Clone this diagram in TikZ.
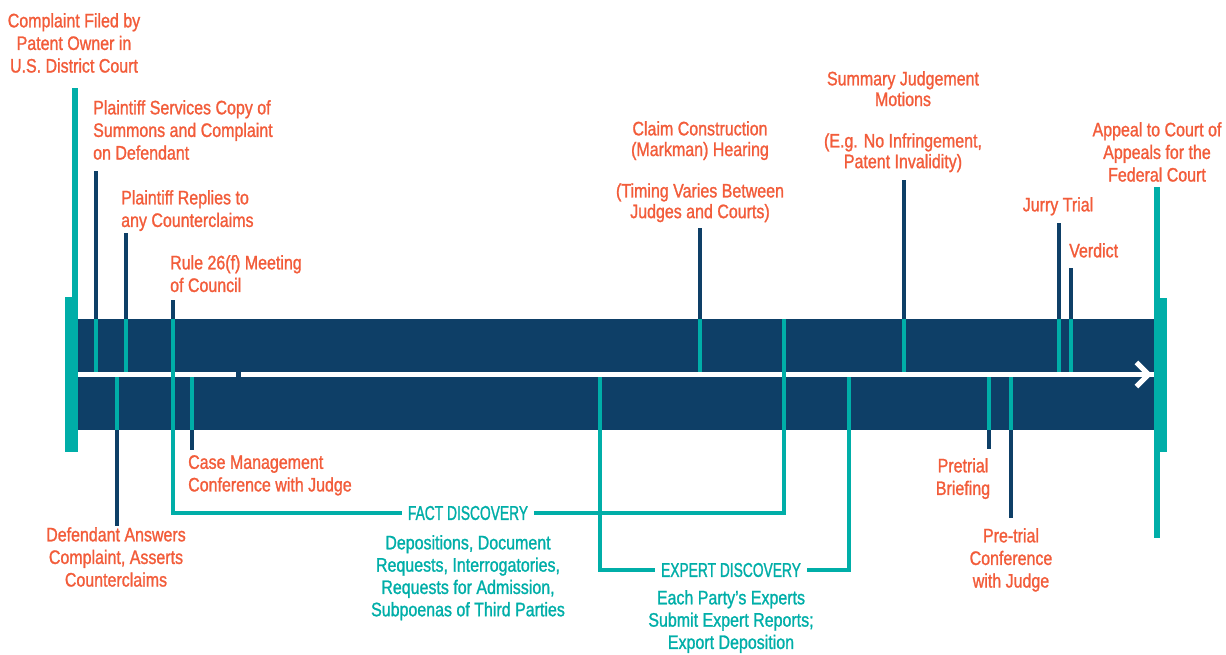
\documentclass[tikz,border=0pt]{standalone}
\usepackage{fontspec}
\setmainfont{Liberation Sans}[FakeStretch=0.82, FakeBold=1.2]
\newfontfamily\phasefont{Liberation Sans}[FakeStretch=0.69, FakeBold=1.2]
\usetikzlibrary{arrows.meta, positioning}
\definecolor{navycolor}{RGB}{14,63,103}
\definecolor{tealcolor}{RGB}{0,174,168}
\definecolor{eventcolor}{RGB}{242,92,58}

\begin{document}
\begin{tikzpicture}[
    x=1pt, y=-1pt,
    event/.style={text=eventcolor, font=\fontsize{19.5}{22.6}\selectfont, inner sep=0pt},
    eventtight/.style={event, font=\fontsize{19.5}{20.7}\selectfont, align=center},
    phase/.style={text=tealcolor, font=\phasefont\fontsize{20}{22}\selectfont, fill=white, inner xsep=6pt, inner ysep=1pt},
    phasenote/.style={text=tealcolor, font=\fontsize{19.5}{22.3}\selectfont, align=center, inner sep=0pt},
    navytick/.style={draw=navycolor, line width=4.5pt},
    tealtick/.style={draw=tealcolor, line width=4.5pt},
    bracket/.style={draw=tealcolor, line width=4pt, line join=miter},
    timeline/.style={draw=white, line width=5pt, -{Straight Barb[length=12pt, width=24pt]}}
]
    \useasboundingbox (0,0) rectangle (1226,654);

    % the two bands of the timeline
    \fill[navycolor] (78,319) rectangle (1156,372);
    \fill[navycolor] (78,377) rectangle (1156,430);
    \coordinate (tstart) at (78,374.5);
    \coordinate (tend) at (1152,374.5);
    \draw[timeline] (tstart) -- (tend);
    \fill[navycolor] (236,371) rectangle (241,378);

    % start and end markers
    \fill[tealcolor] (65,297) rectangle (78,452);
    \fill[tealcolor] (72,88) rectangle (78,297);
    \fill[tealcolor] (1154,298) rectangle (1167,452);
    \fill[tealcolor] (1154,187) rectangle (1160,538);

    % events above the timeline
    \draw[navytick] (96,171) -- (96,319);
    \draw[tealtick] (96,319) -- (96,372);
    \draw[navytick] (126,233) -- (126,319);
    \draw[tealtick] (126,319) -- (126,372);
    \draw[navytick] (173,300) -- (173,319);
    \draw[navytick] (700,228) -- (700,319);
    \draw[tealtick] (700,319) -- (700,372);
    \draw[navytick] (904,180) -- (904,319);
    \draw[tealtick] (904,319) -- (904,372);
    \draw[navytick] (1059,223) -- (1059,319);
    \draw[tealtick] (1059,319) -- (1059,372);
    \draw[navytick] (1071,268) -- (1071,319);
    \draw[tealtick] (1071,319) -- (1071,372);

    % events below the timeline
    \draw[tealtick] (117,377) -- (117,430);
    \draw[navytick] (117,430) -- (117,526);
    \draw[tealtick] (192,377) -- (192,430);
    \draw[navytick] (192,430) -- (192,450);
    \draw[tealtick] (989,377) -- (989,430);
    \draw[navytick] (989,430) -- (989,449);
    \draw[tealtick] (1011,377) -- (1011,430);
    \draw[navytick] (1011,430) -- (1011,518);

    % discovery periods
    \draw[bracket] (173,319) |- (784,513) -- (784,319);
    \draw[bracket] (600,377) |- (849,570) -- (849,377);
    \node[phase] (fact) at (468,513) {FACT DISCOVERY};
    \node[phase] (expert) at (731,570) {EXPERT DISCOVERY};
    \node[phasenote, anchor=north] (factnote) at (468,535) {Depositions, Document\\Requests, Interrogatories,\\Requests for Admission,\\Subpoenas of Third Parties};
    \node[phasenote, anchor=north] (expertnote) at (731,590) {Each Party's Experts\\Submit Expert Reports;\\Export Deposition};

    % labels
    \node[event, align=center, anchor=north] (complaint) at (74,13) {Complaint Filed by\\Patent Owner in\\U.S. District Court};
    \node[event, align=left, anchor=north west] (service) at (93,100) {Plaintiff Services Copy of\\Summons and Complaint\\on Defendant};
    \node[event, align=left, anchor=north west] (replies) at (121,190) {Plaintiff Replies to\\any Counterclaims};
    \node[event, align=left, anchor=north west] (rule) at (170,255) {Rule 26(f) Meeting\\of Council};
    \node[event, align=center, anchor=north] (answer) at (116,527) {Defendant Answers\\Complaint, Asserts\\Counterclaims};
    \node[event, align=left, anchor=north west] (casemgmt) at (188,455) {Case Management\\Conference with Judge};
    \node[eventtight, anchor=north] (markman) at (700,121) {Claim Construction\\(Markman) Hearing\\[20.7pt](Timing Varies Between\\Judges and Courts)};
    \node[eventtight, anchor=north] (summary) at (903,71) {Summary Judgement\\Motions\\[20.7pt](E.g. No Infringement,\\Patent Invalidity)};
    \node[event, anchor=north] (jury) at (1058,197) {Jurry Trial};
    \node[event, anchor=north west] (verdict) at (1069,243) {Verdict};
    \node[event, align=center, anchor=north] (briefing) at (963,458) {Pretrial\\Briefing};
    \node[event, align=center, anchor=north] (conference) at (1011,528) {Pre-trial\\Conference\\with Judge};
    \node[event, align=center, anchor=north] (appeal) at (1157,122) {Appeal to Court of\\Appeals for the\\Federal Court};
\end{tikzpicture}
\end{document}
